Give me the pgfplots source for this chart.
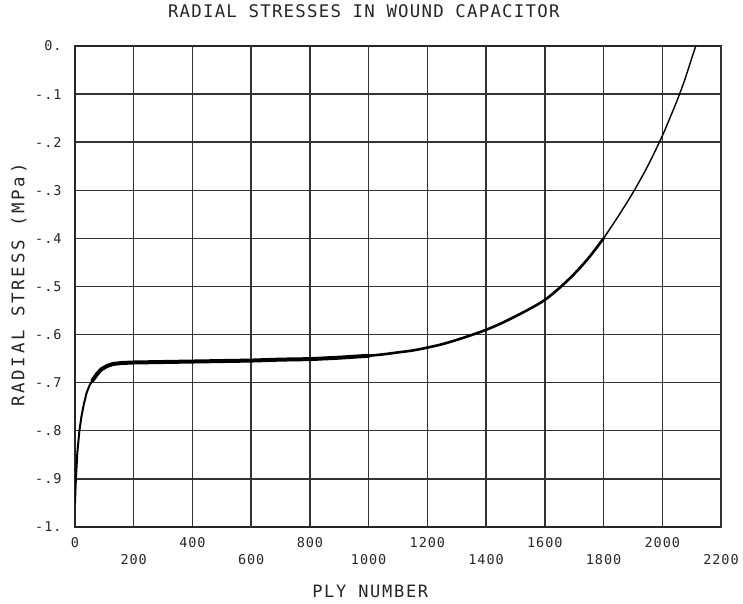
\documentclass[border=0pt]{standalone}
\usepackage{fontspec}
\usepackage{pgfplots}
\pgfplotsset{compat=1.18}
\setmainfont{DejaVu Sans Mono}
\newfontfamily\plotfont[LetterSpace=7]{DejaVu Sans Mono}
\newfontfamily\ylabfont[LetterSpace=16]{DejaVu Sans Mono}
\newfontfamily\xlabfont[LetterSpace=10]{DejaVu Sans Mono}
\begin{document}
\begin{tikzpicture}
\path[use as bounding box] (0pt,0pt) rectangle (743pt,604pt);
\begin{axis}[
  at={(75pt,77pt)}, anchor=south west,
  scale only axis, width=646pt, height=481pt,
  xmin=0, xmax=2200, ymin=-1, ymax=0,
  axis line style={line width=1.8pt, black!85},
  grid=major,
  major grid style={line width=1.4pt, black!80},
  major tick length=0pt,
  xtick={0,400,800,1200,1600,2000},
  xticklabels={0,400,800,1200,1600,2000},
  extra x ticks={200,600,1000,1400,1800,2200},
  extra x tick labels={200,600,1000,1400,1800,2200},
  extra x tick style={grid=major, major tick length=0pt,
     xticklabel style={anchor=center, yshift=-17pt}},
  xticklabel style={anchor=center, yshift=-16pt, font=\plotfont\fontsize{13.5}{13.5}\selectfont, text=black!85},
  ytick={-1,-0.9,-0.8,-0.7,-0.6,-0.5,-0.4,-0.3,-0.2,-0.1,0},
  yticklabels={-1.,-.9,-.8,-.7,-.6,-.5,-.4,-.3,-.2,-.1,0.},
  yticklabel style={anchor=east, xshift=-10pt, font=\plotfont\fontsize{13.5}{13.5}\selectfont, text=black!85},
  title={RADIAL STRESSES IN WOUND CAPACITOR},
  title style={at={(axis description cs:0.447,1.059)}, anchor=center, font=\plotfont\fontsize{17.4}{17.4}\selectfont, text=black!85},
  xlabel={PLY NUMBER},
  xlabel style={at={(axis description cs:0.457,-0.133)}, anchor=center, font=\xlabfont\fontsize{17}{17}\selectfont, text=black!85},
  ylabel={RADIAL STRESS (MPa)},
  ylabel style={at={(axis description cs:-0.0867,0.503)}, anchor=center, font=\ylabfont\fontsize{17.4}{17.4}\selectfont, text=black!85},
  clip=true,
]
\addplot[black, line width=2pt, line join=round, line cap=round] coordinates {
(0,-0.95) (3,-0.90) (8,-0.845) (15,-0.80) (22,-0.77) (30,-0.745) (40,-0.72)
(50,-0.705) (60,-0.695) (75,-0.682)
};
\addplot[black, line width=4pt, line join=round, line cap=round] coordinates {
(60,-0.695) (75,-0.682) (90,-0.672) (110,-0.665) (130,-0.661) (160,-0.659)
(200,-0.658) (300,-0.657) (400,-0.656) (500,-0.655) (600,-0.654) (700,-0.652)
(800,-0.651) (900,-0.648) (1000,-0.644)
};
\addplot[black, line width=2.6pt, line join=round, line cap=round, smooth] coordinates {
(1000,-0.644) (1050,-0.641) (1100,-0.637) (1150,-0.633) (1200,-0.627)
(1250,-0.620) (1300,-0.611) (1350,-0.601) (1400,-0.590) (1450,-0.577)
(1500,-0.562) (1550,-0.546) (1600,-0.528) (1650,-0.503) (1700,-0.474)
(1750,-0.440) (1800,-0.400)
};
\addplot[black, line width=1.4pt, line join=round, line cap=round, smooth] coordinates {
(1800,-0.400) (1850,-0.354) (1900,-0.305) (1950,-0.250) (2000,-0.187)
(2025,-0.151) (2050,-0.114) (2075,-0.073) (2100,-0.026) (2114,0.000)
};
\end{axis}
\end{tikzpicture}
\end{document}
